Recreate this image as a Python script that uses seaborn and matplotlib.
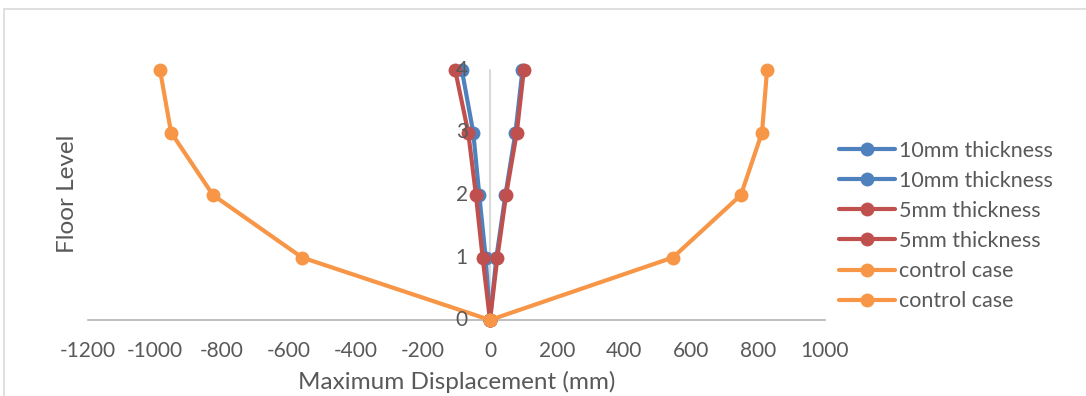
import matplotlib
matplotlib.use("Agg")
import matplotlib.pyplot as plt
from matplotlib.patches import Rectangle
import seaborn as sns
import pandas as pd

# Floor levels and peak storey displacements (mm), negative and positive sway
floors = [0, 1, 2, 3, 4]
thick10_neg = [0, -13, -32, -50, -84]
thick10_pos = [0, 19, 46, 76, 97]
thick5_neg = [0, -22, -42, -65, -104]
thick5_pos = [0, 22, 48, 80, 101]
control_neg = [0, -561, -827, -952, -985]
control_pos = [0, 546, 749, 812, 827]

series_names = ["10mm thickness", "10mm thickness", "5mm thickness",
                "5mm thickness", "control case", "control case"]
series_values = [thick10_neg, thick10_pos, thick5_neg, thick5_pos,
                 control_neg, control_pos]
series_colors = ["#4F81BD", "#4F81BD", "#C0504D", "#C0504D", "#F79646", "#F79646"]

x_ticks = [-1200, -1000, -800, -600, -400, -200, 0, 200, 400, 600, 800, 1000]
y_ticks = [0, 1, 2, 3, 4]

sns.set_theme(style="white")
plt.rcParams["font.family"] = ["Lato", "DejaVu Sans"]
text_color = "#595959"

W, H = 1086, 396
fig = plt.figure(figsize=(W / 100, H / 100), dpi=100)
ax = fig.add_axes([88 / W, 1 - 320 / H, 737 / W, 250 / H])

for i, (name, vals, col) in enumerate(zip(series_names, series_values, series_colors)):
    df = pd.DataFrame({"disp": vals, "floor": floors})
    sns.lineplot(data=df, x="disp", y="floor", sort=False, estimator=None,
                 color=col, linewidth=3.0, marker="o", markersize=10,
                 markeredgewidth=0, label=name, ax=ax, zorder=3 + i,
                 clip_on=False)

ax.set_xlim(-1200, 1000)
ax.set_ylim(0, 4)
for s in ax.spines.values():
    s.set_visible(False)

# axis lines through the origin
ax.axhline(0, color="#BFBFBF", linewidth=1.5, zorder=1, clip_on=False)
ax.axvline(0, color="#D9D9D9", linewidth=1.5, zorder=1, clip_on=False)

ax.set_xticks(x_ticks)
ax.set_xticklabels([str(v) for v in x_ticks])
ax.tick_params(axis="x", length=0, pad=15, labelsize=15, labelcolor=text_color)

# y tick labels sit to the left of the vertical axis at x = 0
ax.set_yticks([])
ax.set_ylabel("")
for v in y_ticks:
    ax.text(-66, v, str(v), ha="right", va="center", fontsize=15,
            color=text_color, zorder=20)

ax.set_xlabel("Maximum Displacement (mm)", fontsize=17.5, color=text_color,
              labelpad=7)
fig.text(67 / W, 1 - 194 / H, "Floor Level", rotation=90, ha="center",
         va="center", fontsize=17.5, color=text_color)

leg = ax.legend(loc="upper left", bbox_to_anchor=(830 / W, 1 - 132 / H),
                bbox_transform=fig.transFigure, frameon=False, fontsize=15.5,
                handlelength=2.6, handletextpad=0.2, labelspacing=0.47,
                borderaxespad=0)
for t in leg.get_texts():
    t.set_color(text_color)

# chart area border
fig.patches.append(Rectangle((4 / W, -0.1), 1.2, 1.1 - 9 / H,
                             transform=fig.transFigure, fill=False,
                             edgecolor="#D9D9D9", linewidth=1.2))

fig.savefig("out.png", dpi=100)
